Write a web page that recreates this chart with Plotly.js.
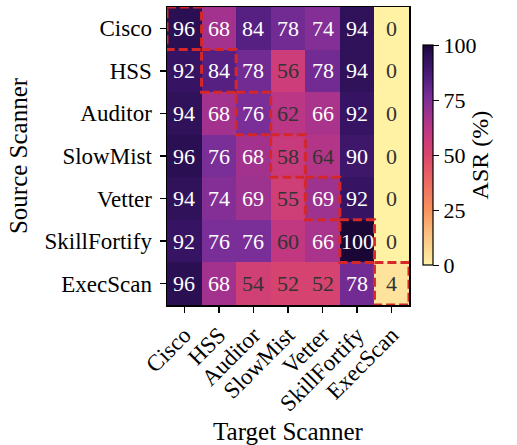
<!DOCTYPE html>
<html>
<head>
<meta charset="utf-8">
<script src="https://cdn.plot.ly/plotly-3.0.1.min.js"></script>
<style>html,body{margin:0;padding:0;background:#fff;}#chart{width:517px;height:445px;}</style>
</head>
<body>
<div id="chart"></div>
<script>
const sources = ['Cisco','HSS','Auditor','SlowMist','Vetter','SkillFortify','ExecScan'];
const targets = ['Cisco','HSS','Auditor','SlowMist','Vetter','SkillFortify','ExecScan'];
const asr = [
  [96, 68, 84, 78, 74, 94, 0],
  [92, 84, 78, 56, 78, 94, 0],
  [94, 68, 76, 62, 66, 92, 0],
  [96, 76, 68, 58, 64, 90, 0],
  [94, 74, 69, 55, 69, 92, 0],
  [92, 76, 76, 60, 66, 100, 0],
  [96, 68, 54, 52, 52, 78, 4]
];
const cbTicks = [0, 25, 50, 75, 100];

const FONT = 'Liberation Serif, Times New Roman, serif';
const colorscale = [
  [0.00, '#fff2a5'],
  [0.04, '#fde39b'],
  [0.15, '#fbbd7c'],
  [0.25, '#f7935c'],
  [0.40, '#ea6264'],
  [0.50, '#d9466c'],
  [0.56, '#cd3d79'],
  [0.62, '#bb3684'],
  [0.68, '#a2328e'],
  [0.76, '#7a2e98'],
  [0.84, '#552081'],
  [0.92, '#361463'],
  [0.96, '#2a0f53'],
  [1.00, '#1a0735']
];

const trace = {
  type: 'heatmap',
  x: targets,
  y: sources,
  z: asr,
  zmin: 0, zmax: 100,
  colorscale: colorscale,
  showscale: true,
  hoverinfo: 'skip',
  colorbar: {
    x: 1.058, xanchor: 'left', xpad: 0,
    y: 0.503, yanchor: 'middle', ypad: 0,
    thickness: 10,
    lenmode: 'pixels', len: 220,
    outlinewidth: 1.2, outlinecolor: '#000',
    ticks: 'outside', ticklen: 6, tickwidth: 1.2, tickcolor: '#000',
    tickvals: cbTicks,
    tickfont: {family: FONT, size: 22, color: '#000'},
    title: {text: 'ASR (%)', side: 'right', font: {family: FONT, size: 24, color: '#000'}}
  }
};

const annotations = [];
sources.forEach((s, i) => {
  targets.forEach((t, j) => {
    const v = asr[i][j];
    annotations.push({
      x: t, y: s, xref: 'x', yref: 'y',
      text: String(v), showarrow: false,
      font: {family: FONT, size: 22, color: v >= 65 ? '#ffffff' : '#333333'}
    });
  });
});

const shapes = sources.map((s, i) => ({
  type: 'rect', xref: 'x', yref: 'y',
  x0: i - 0.5, x1: i + 0.5, y0: i - 0.5, y1: i + 0.5,
  line: {color: '#d62728', width: 3, dash: '9px,4px'},
  fillcolor: 'rgba(0,0,0,0)',
  layer: 'above'
}));

const layout = {
  width: 517, height: 445,
  margin: {l: 167, r: 108, t: 7, b: 140},
  paper_bgcolor: '#fff', plot_bgcolor: '#fff',
  font: {family: FONT, size: 22, color: '#000'},
  xaxis: {
    type: 'category',
    range: [-0.5, 6.5],
    tickangle: -45,
    ticks: 'outside', ticklen: 6, tickwidth: 1.3, tickcolor: '#000',
    showline: true, mirror: true, linecolor: '#000', linewidth: 1.5,
    showgrid: false, zeroline: false,
    tickfont: {family: FONT, size: 23, color: '#000'},
    title: {text: 'Target Scanner', font: {family: FONT, size: 25, color: '#000'}, standoff: 8},
    automargin: false
  },
  yaxis: {
    type: 'category',
    range: [6.5, -0.5],
    ticks: 'outside', ticklen: 6, tickwidth: 1.3, tickcolor: '#000',
    ticklabelstandoff: 3,
    showline: true, mirror: true, linecolor: '#000', linewidth: 1.5,
    showgrid: false, zeroline: false,
    tickfont: {family: FONT, size: 23, color: '#000'},
    title: {text: 'Source Scanner', font: {family: FONT, size: 25, color: '#000'}, standoff: 10},
    automargin: false
  },
  annotations: annotations,
  shapes: shapes
};

Plotly.newPlot('chart', [trace], layout, {displayModeBar: false, staticPlot: true});
</script>
</body>
</html>
